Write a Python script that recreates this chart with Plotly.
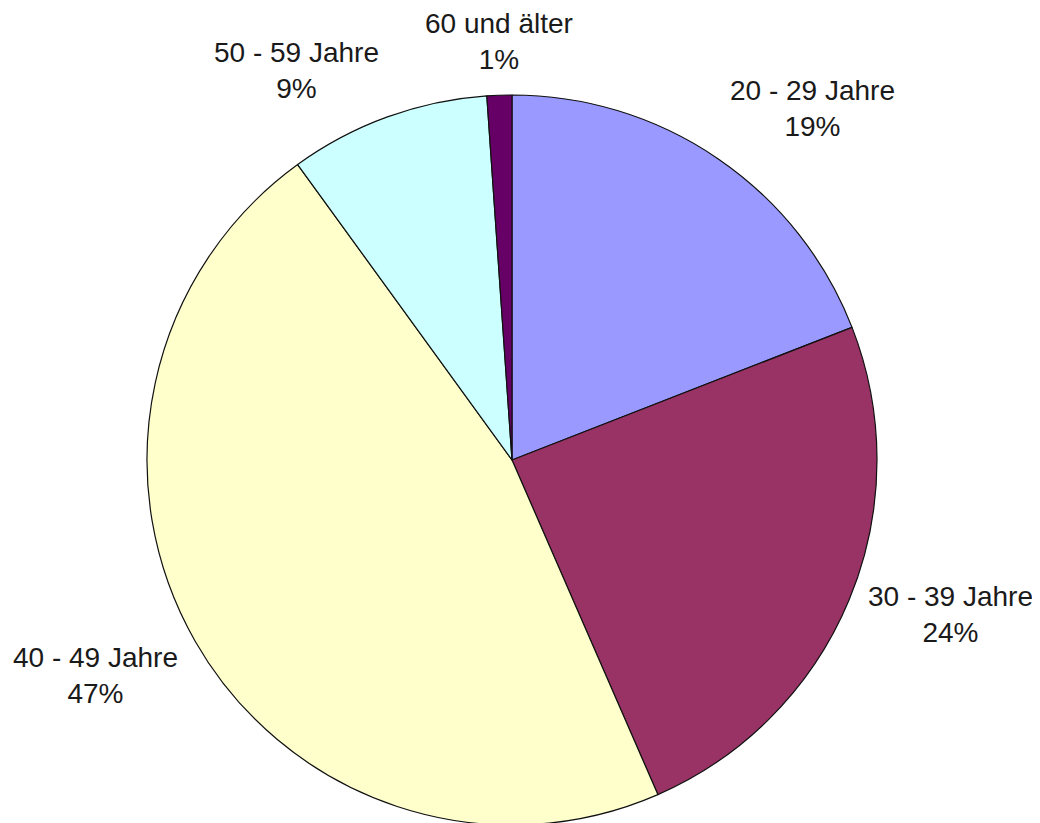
import math
import plotly.graph_objects as go

categories = ["20 - 29 Jahre", "30 - 39 Jahre", "40 - 49 Jahre", "50 - 59 Jahre", "60 und älter"]
values = [19.1, 24.4, 46.6, 8.9, 1.1]
colors = ["#9999FF", "#993366", "#FFFFCC", "#CCFFFF", "#660066"]

W, H = 1040, 823
ML, MR, MT, MB = 139, 171, 87, 6
PW, PH = W - ML - MR, H - MT - MB
R = min(PW, PH) / 2.0
GAP = 18

fig = go.Figure(go.Pie(
    labels=categories,
    values=values,
    sort=False,
    direction="clockwise",
    rotation=0,
    marker=dict(colors=colors, line=dict(color="#111111", width=1.2)),
    textinfo="none",
    automargin=False,
    showlegend=False,
    hoverinfo="label+percent",
))

# Excel-style outside labels, placed from each slice's mid-angle
total = sum(values)
annotations = []
cum = 0.0
for lab, v in zip(categories, values):
    mid = (cum + v / 2.0) / total * 2 * math.pi
    cum += v
    s, c = math.sin(mid), math.cos(mid)
    d = R + GAP
    x = 0.5 + d * s / PW
    y = 0.5 + d * c / PH
    xa = "left" if s > 0.3 else ("right" if s < -0.3 else "center")
    ya = "bottom" if c > 0.5 else ("top" if c < -0.45 else "middle")
    if ya == "middle":
        yshift = -8
    elif ya == "top":
        yshift = 10
    elif xa == "right":
        yshift = -6
    else:
        yshift = 0
    pct = round(v / total * 100)
    annotations.append(dict(
        x=x, y=y, xref="paper", yref="paper",
        text=f"{lab}<br>{pct}%", showarrow=False, align="center",
        xanchor=xa, yanchor=ya, yshift=yshift,
        font=dict(family="Liberation Sans, Arial, sans-serif", size=28, color="#1a1a1a"),
    ))

fig.update_layout(
    width=W, height=H,
    margin=dict(l=ML, r=MR, t=MT, b=MB),
    paper_bgcolor="white",
    plot_bgcolor="white",
    annotations=annotations,
)

fig.write_html("out.html")
